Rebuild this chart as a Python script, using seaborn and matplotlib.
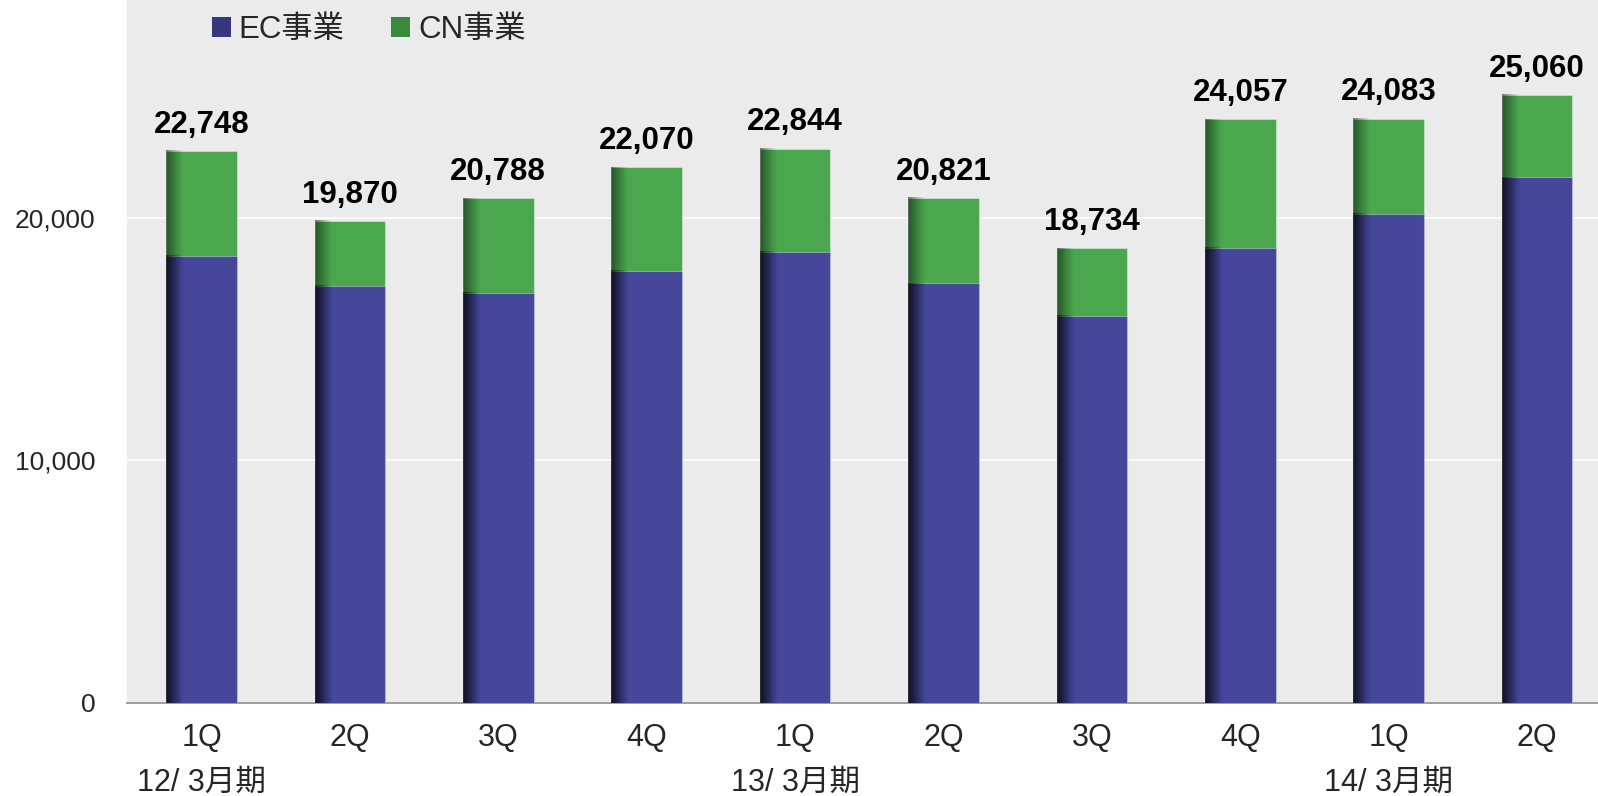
import numpy as np
import pandas as pd
import matplotlib
matplotlib.use("Agg")
import matplotlib.pyplot as plt
import seaborn as sns
from matplotlib.patches import Patch

# ---- data ----
periods = ["12-1Q", "12-2Q", "12-3Q", "12-4Q", "13-1Q", "13-2Q", "13-3Q", "13-4Q", "14-1Q", "14-2Q"]
quarter_labels = ["1Q", "2Q", "3Q", "4Q", "1Q", "2Q", "3Q", "4Q", "1Q", "2Q"]
fiscal_labels = ["12/ 3月期", "", "", "", "13/ 3月期", "", "", "", "14/ 3月期", ""]
totals = [22748, 19870, 20788, 22070, 22844, 20821, 18734, 24057, 24083, 25060]
ec_values = [18420, 17190, 16910, 17800, 18600, 17290, 15950, 18760, 20160, 21660]
series_names = ["EC事業", "CN事業"]

# ---- style ----
sns.set_theme(style="white")
plt.rcParams["font.family"] = ["Liberation Sans", "Noto Sans CJK JP", "DejaVu Sans"]

BLUE = "#46479A"
GREEN = "#4AA74E"
BG = "#EBEBEB"

df = pd.DataFrame({"period": periods, "total": totals, "ec": ec_values})

W, H = 1598, 796
fig = plt.figure(figsize=(W / 100, H / 100), dpi=100)
ax = fig.add_axes([127.3 / W, (H - 703) / H, 1484 / W, 703 / H])
ax.set_facecolor(BG)

bar_w = 0.476
sns.barplot(data=df, x="period", y="total", order=periods, color=GREEN, saturation=1,
            width=bar_w, errorbar=None, ax=ax, edgecolor=(1, 1, 1, 0.35), linewidth=0.8, zorder=3)
sns.barplot(data=df, x="period", y="ec", order=periods, color=BLUE, saturation=1,
            width=bar_w, errorbar=None, ax=ax, edgecolor=(1, 1, 1, 0.35), linewidth=0.8, zorder=3)

# value labels on totals
ax.bar_label(ax.containers[0], labels=[f"{v:,}" for v in totals], padding=8,
             fontsize=22.5, fontweight="bold", color="black")

# left-edge shading gradient on each bar
t = np.linspace(0, 1, 200)
alpha = np.clip(1 - t / 0.25, 0, 1) ** 1.2 * 0.5
grad = np.zeros((1, 200, 4))
grad[..., 3] = alpha
for p in list(ax.patches):
    x0, y0 = p.get_x(), p.get_y()
    w, h = p.get_width(), p.get_height()
    ax.imshow(grad, extent=(x0, x0 + w, y0, y0 + h), aspect="auto",
              interpolation="bilinear", zorder=3.5)

ax.set_xlim(-0.5, len(periods) - 0.5)
ax.set_ylim(0, 28966)

# grid
ax.set_yticks([0, 10000, 20000])
ax.set_yticklabels(["0", "10,000", "20,000"], fontsize=19)
ax.yaxis.grid(True, color="white", linewidth=1.2, zorder=0)
ax.set_axisbelow(True)
ax.tick_params(axis="y", length=0, pad=23)

# x ticks
ax.set_xticks(range(len(periods)))
ax.set_xticklabels([q + ("\n" + f if f else "") for q, f in zip(quarter_labels, fiscal_labels)],
                   fontsize=22, linespacing=1.63)
ax.tick_params(axis="x", which="major", length=0, pad=14.5)
ax.set_xticks(np.arange(-0.5, len(periods), 1.0), minor=True)
ax.tick_params(axis="x", which="minor", length=7, width=1, color="#8C8C8C", direction="out")
for lbl in ax.get_xticklabels():
    lbl.set_verticalalignment("top")

ax.set_xlabel("")
ax.set_ylabel("")
for s in ["top", "right", "left"]:
    ax.spines[s].set_visible(False)
ax.spines["bottom"].set_color("#8C8C8C")
ax.spines["bottom"].set_linewidth(1.2)

# legend
handles = [Patch(facecolor="#36377E", edgecolor="none"), Patch(facecolor="#3A8A3E", edgecolor="none")]
fig.legend(handles, series_names, loc="upper left", bbox_to_anchor=(212 / W, 1 - 15 / H),
           ncol=2, frameon=False, fontsize=22.5, handlelength=0.6, handleheight=0.6,
           handletextpad=0.25, columnspacing=1.5, borderpad=0, borderaxespad=0)

fig.savefig("out.png", dpi=100, facecolor="white")
